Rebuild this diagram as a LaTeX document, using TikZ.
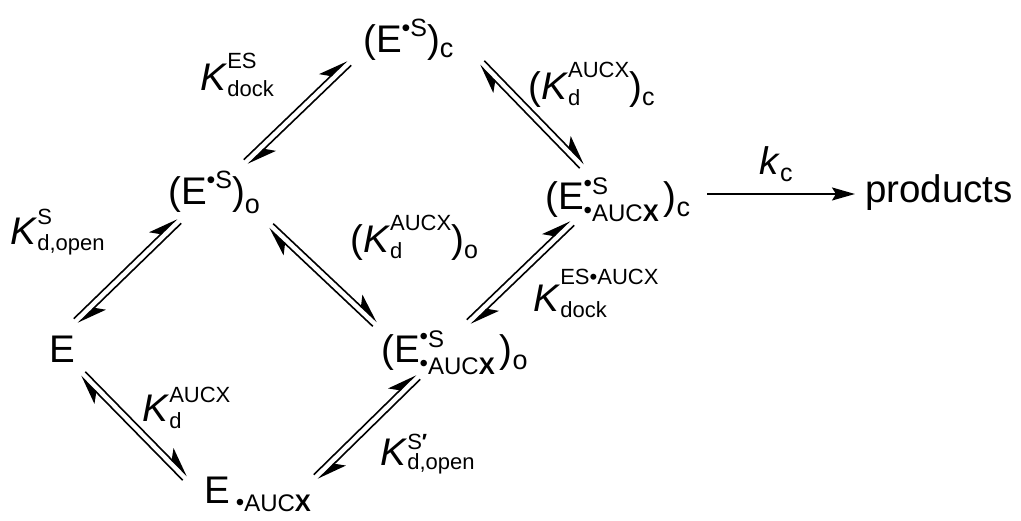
\documentclass[tikz,border=0pt]{standalone}
\usepackage{fontspec}
\setmainfont{Liberation Sans}
\usetikzlibrary{arrows.meta,calc}
\newcommand\fsz[1]{\fontsize{#1}{#1}\selectfont}
\newcommand\bul{\raisebox{3pt}{•}}
\newcommand\stk[5][22]{%
  \setbox0\hbox{\fsz{#1}#3}\setbox2\hbox{\fsz{#1}#5}%
  \ifdim\wd0>\wd2 \dimen0=\wd0 \else \dimen0=\wd2 \fi
  \hbox to\dimen0{\raise#2\copy0\hskip-\wd0\lower#4\copy2\hfil}}
\newcommand\eqarr[2]{%
  \draw[harp] ($(#1)!3.2pt!90:(#2)$) -- ($(#2)!3.2pt!-90:(#1)$);
  \draw[harp] ($(#2)!3.2pt!90:(#1)$) -- ($(#1)!3.2pt!-90:(#2)$);}
\tikzset{
  lbl/.style={inner sep=0pt, anchor=base west, font=\fsz{38.5}},
  harp/.style={line width=1.6pt, -{Stealth[harpoon,length=27pt,width=19pt,inset=7pt]}},
  fwd/.style={line width=1.8pt, -{Stealth[length=23pt,width=13pt,inset=4pt]}}
}
\begin{document}
\begin{tikzpicture}[x=1pt,y=-1pt]
\useasboundingbox (0,0) rectangle (1021,521);
% species
\node[lbl] (Sc) at (363,53) {(E\raisebox{16pt}{\fsz{25}•S})\raisebox{-5pt}{\fsz{27}c}};
\node[lbl] (So) at (168,205) {(E\raisebox{16pt}{\fsz{25}•S})\raisebox{-9pt}{\fsz{27}o}};
\node[lbl] (E) at (49,363) {E};
\node[lbl] (EA) at (204,503) {E\hspace{6pt}\raisebox{-9pt}{\fsz{24}\raisebox{2pt}{•}AUC\textbf{X}}};
\node[lbl] (SAo) at (381,363) {(E\stk[24]{15pt}{\bul S}{12pt}{\bul AUC\textbf{X}}\hspace{5pt})\raisebox{-7pt}{\fsz{27}o}};
\node[lbl] (SAc) at (545,210) {(E\stk[24]{15pt}{\bul S}{12pt}{\bul AUC\textbf{X}}\hspace{5pt})\raisebox{-7pt}{\fsz{27}c}};
\node[lbl] (P) at (865,203) {products};
% constants
\node[lbl] (Ldock) at (200,91) {\textit{K}\stk{22pt}{ES}{6pt}{dock}};
\node[lbl] (Lc) at (528,100) {(\textit{K}\stk{22pt}{AUCX}{6pt}{d})\raisebox{-6pt}{\fsz{25}c}};
\node[lbl] (Lopen) at (10,245) {\textit{K}\stk{20pt}{S}{6pt}{d,open}};
\node[lbl] (Lo) at (350,253) {(\textit{K}\stk{22pt}{AUCX}{6pt}{d})\raisebox{-6pt}{\fsz{25}o}};
\node[lbl] (Ldock2) at (533,312) {\textit{K}\stk{27pt}{ES•AUCX}{6pt}{dock}};
\node[lbl] (Ld) at (142,422) {\textit{K}\stk{20pt}{AUCX}{6pt}{d}};
\node[lbl] (Lopen2) at (380,466) {\textit{K}\stk{17pt}{S\textbf{′}}{4pt}{d,open}};
\node[lbl] (Lk) at (759,175) {\textit{k}\raisebox{-7pt}{\fsz{25}c}};
% arrow end points
\coordinate (a1) at (76,321);  \coordinate (b1) at (179,221);
\coordinate (a2) at (246,162); \coordinate (b2) at (349,63);
\coordinate (a3) at (482,63);  \coordinate (b3) at (582,166);
\coordinate (a4) at (271,226); \coordinate (b4) at (375,324);
\coordinate (a5) at (83,374);  \coordinate (b5) at (185,478);
\coordinate (a6) at (316,477); \coordinate (b6) at (418,377);
\coordinate (a7) at (469,322); \coordinate (b7) at (572,223);
\coordinate (k1) at (707,194); \coordinate (k2) at (855,194);
\eqarr{a1}{b1}
\eqarr{a2}{b2}
\eqarr{a3}{b3}
\eqarr{a4}{b4}
\eqarr{a5}{b5}
\eqarr{a6}{b6}
\eqarr{a7}{b7}
\draw[fwd] (k1) -- (k2);
\end{tikzpicture}
\end{document}
